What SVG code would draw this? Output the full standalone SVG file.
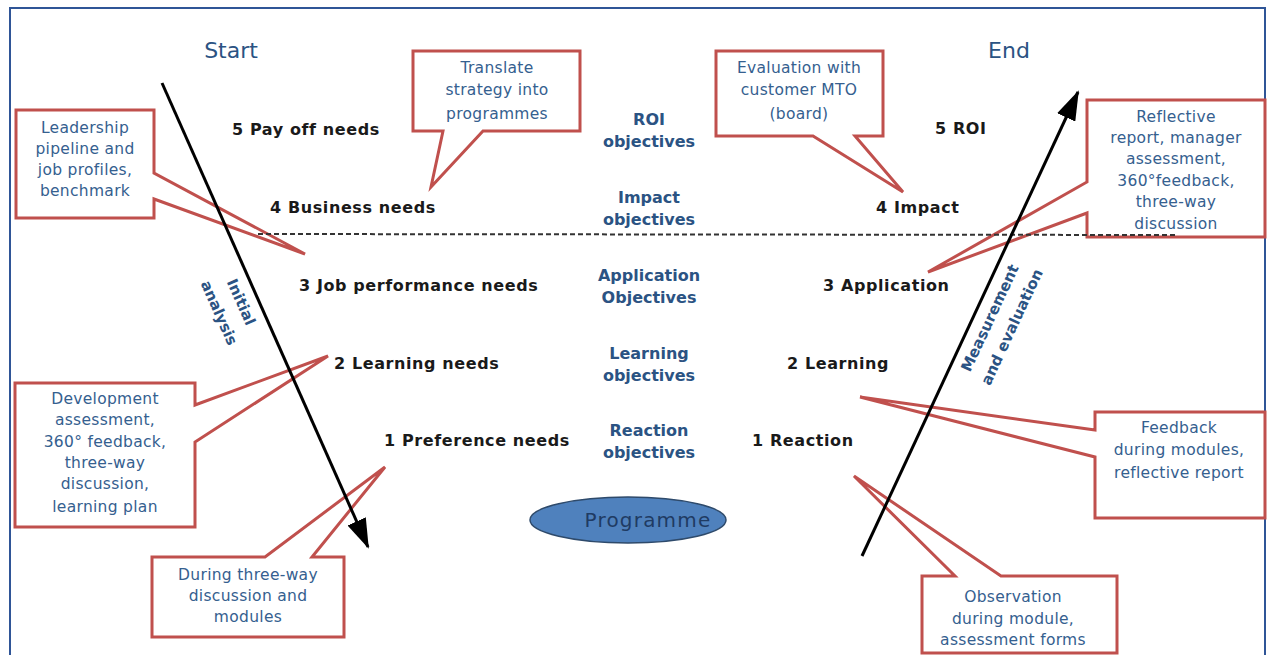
<svg xmlns="http://www.w3.org/2000/svg" width="1268" height="655" viewBox="0 0 1268 655">
<defs>
<style>
.frame{fill:#fff;stroke:#2F5597;stroke-width:2}
.lvl{font-family:"DejaVu Sans",Verdana,sans-serif;font-weight:bold;font-size:16px;fill:#1a1a1a;letter-spacing:0.6px}
.obj{font-family:"DejaVu Sans",Verdana,sans-serif;font-weight:bold;font-size:16px;fill:#2B5383;text-anchor:middle}
.ttl{font-family:"DejaVu Sans",Verdana,sans-serif;font-size:22px;fill:#2B5383;text-anchor:middle}
.rot{font-family:"DejaVu Sans",Verdana,sans-serif;font-weight:bold;font-size:15px;fill:#2B5383;text-anchor:middle}
.call{fill:#fff;stroke:#C0504D;stroke-width:3;stroke-linejoin:miter}
.ct{font-family:"DejaVu Sans",Verdana,sans-serif;font-size:15.5px;fill:#35608F;text-anchor:middle;letter-spacing:0.3px}
.arrow{stroke:#000;stroke-width:3;fill:none}
.dash{stroke:#333;stroke-width:2;stroke-dasharray:5 3;fill:none}
</style>
<marker id="ah" markerUnits="userSpaceOnUse" markerWidth="32" markerHeight="20" refX="28" refY="10" orient="auto">
<path d="M0,0 L30,10 L0,20 Z" fill="#000"/>
</marker>
</defs>
<rect x="10" y="8" width="1255" height="660" class="frame"/>

<g id="titles">
<text class="ttl" x="231" y="58">Start</text>
<text class="ttl" x="1009" y="58">End</text>
</g>

<g id="needs">
<text class="lvl" x="232" y="135">5 Pay off needs</text>
<text class="lvl" x="270" y="213">4 Business needs</text>
<text class="lvl" x="299" y="291">3 Job performance needs</text>
<text class="lvl" x="334" y="369">2 Learning needs</text>
<text class="lvl" x="384" y="446">1 Preference needs</text>
</g>

<g id="results">
<text class="lvl" x="935" y="134">5 ROI</text>
<text class="lvl" x="876" y="213">4 Impact</text>
<text class="lvl" x="823" y="291">3 Application</text>
<text class="lvl" x="787" y="369">2 Learning</text>
<text class="lvl" x="752" y="446">1 Reaction</text>
</g>

<g id="objectives">
<text class="obj" x="649" y="125">ROI</text>
<text class="obj" x="649" y="147">objectives</text>
<text class="obj" x="649" y="203">Impact</text>
<text class="obj" x="649" y="225">objectives</text>
<text class="obj" x="649" y="281">Application</text>
<text class="obj" x="649" y="303">Objectives</text>
<text class="obj" x="649" y="359">Learning</text>
<text class="obj" x="649" y="381">objectives</text>
<text class="obj" x="649" y="436">Reaction</text>
<text class="obj" x="649" y="458">objectives</text>
</g>

<g id="programme">
<ellipse cx="628" cy="520" rx="98" ry="23" fill="#4F81BD" stroke="#2E4A6B" stroke-width="1.5"/>
<text x="648" y="527" font-family="DejaVu Sans, Verdana, sans-serif" font-size="20" fill="#1F3B63" text-anchor="middle" letter-spacing="1.2">Programme</text>
</g>

<g id="callout-leadership">
<path class="call" d="M16,110 H154 V173 L305,254 L154,199 V218 H16 Z"/>
<text class="ct" x="85" y="133">Leadership</text>
<text class="ct" x="85" y="154">pipeline  and</text>
<text class="ct" x="85" y="175">job profiles,</text>
<text class="ct" x="85" y="196">benchmark</text>
</g>

<g id="callout-translate">
<path class="call" d="M413,51 H580 V131 H483 L431,187 L443,131 H413 Z"/>
<text class="ct" x="497" y="73">Translate</text>
<text class="ct" x="497" y="95">strategy into</text>
<text class="ct" x="497" y="119">programmes</text>
</g>

<g id="callout-evaluation">
<path class="call" d="M716,51 H883 V136 H855 L903,192 L813,136 H716 Z"/>
<text class="ct" x="799" y="73">Evaluation  with</text>
<text class="ct" x="799" y="95">customer MTO</text>
<text class="ct" x="799" y="119">(board)</text>
</g>

<g id="callout-reflective">
<path class="call" d="M1087,100 H1265 V237 H1087 V213 L928,272 L1087,182 Z"/>
<text class="ct" x="1176" y="122">Reflective</text>
<text class="ct" x="1176" y="143">report, manager</text>
<text class="ct" x="1176" y="164">assessment,</text>
<text class="ct" x="1176" y="186">360°feedback,</text>
<text class="ct" x="1176" y="207">three-way</text>
<text class="ct" x="1176" y="229">discussion</text>
</g>

<g id="callout-development">
<path class="call" d="M15,383 H195 V405 L328,356 L195,442 V527 H15 Z"/>
<text class="ct" x="105" y="404">Development</text>
<text class="ct" x="105" y="425">assessment,</text>
<text class="ct" x="105" y="447">360° feedback,</text>
<text class="ct" x="105" y="468">three-way</text>
<text class="ct" x="105" y="489">discussion,</text>
<text class="ct" x="105" y="512">learning plan</text>
</g>

<g id="callout-during">
<path class="call" d="M152,557 H265 L385,467 L312,557 H344 V637 H152 Z"/>
<text class="ct" x="248" y="580">During three-way</text>
<text class="ct" x="248" y="601">discussion and</text>
<text class="ct" x="248" y="622">modules</text>
</g>

<g id="callout-feedback">
<path class="call" d="M1095,412 H1265 V518 H1095 V457 L860,397 L1095,430 Z"/>
<text class="ct" x="1179" y="433">Feedback</text>
<text class="ct" x="1179" y="455">during modules,</text>
<text class="ct" x="1179" y="478">reflective report</text>
</g>

<g id="callout-observation">
<path class="call" d="M922,576 H955 L854,476 L1001,576 H1117 V653 H922 Z"/>
<text class="ct" x="1013" y="602">Observation</text>
<text class="ct" x="1013" y="624">during module,</text>
<text class="ct" x="1013" y="645">assessment forms</text>
</g>

<g id="connectors">
<line class="dash" x1="258" y1="234" x2="1178" y2="235"/>
<line class="arrow" x1="162" y1="83" x2="368" y2="547" marker-end="url(#ah)"/>
<line class="arrow" x1="862" y1="556" x2="1078" y2="92" marker-end="url(#ah)"/>
</g>

<g id="label-initial">
<text class="rot" transform="translate(241,302) rotate(66)" x="0" y="5">Initial</text>
<text class="rot" transform="translate(219,313) rotate(66)" x="0" y="5">analysis</text>
</g>
<g id="label-measurement">
<text class="rot" transform="translate(990,318) rotate(-65)" x="0" y="5">Measurement</text>
<text class="rot" transform="translate(1012,327) rotate(-65)" x="0" y="5">and evaluation</text>
</g>
</svg>
